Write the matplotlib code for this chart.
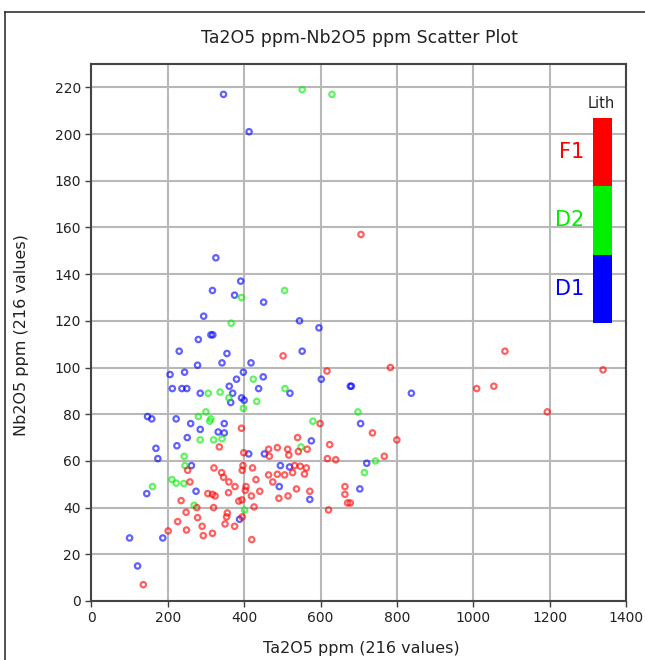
import matplotlib
matplotlib.use("Agg")
from matplotlib import pyplot as plt
from matplotlib.lines import Line2D

# values (Ta2O5 ppm, Nb2O5 ppm)
f1_x = [706, 1083, 783, 1340, 1009, 1054, 1194, 736, 800, 767, 678,
        502, 617, 599, 393, 540, 624, 335, 399,
        464, 487, 514, 542, 565, 517, 466, 618, 640,
        532, 547, 563, 527, 558, 487, 506, 464, 475,
        397, 422, 395, 405, 403,
        321, 341, 346, 360, 376, 431, 441, 419, 394, 386,
        491, 515, 537, 572, 426, 621, 664, 664, 671,
        258, 252, 305, 317, 324, 359, 235, 248, 276, 320, 356, 354,
        278, 226, 350, 375, 395, 201, 249, 290, 293, 317, 420, 136]
f1_y = [157, 107, 100, 99, 91, 92, 81, 72, 69, 62, 42,
        105, 98.5, 76, 74, 70, 67, 66, 63.5,
        65, 65.7, 65, 64, 65, 62.5, 62, 61, 60.5,
        58, 57.7, 57, 55, 54.4, 54.3, 54, 54, 51,
        58, 57, 56, 49, 47.4,
        57, 55, 53, 51, 49, 52, 47, 45, 43.3, 42.8,
        44, 45, 48, 47, 40.3, 39, 49, 45.7, 42,
        51, 56, 46, 45.7, 45, 46.4, 43, 38, 40, 40, 37.7, 36,
        35.7, 34, 33, 32, 36, 30, 30.4, 32, 28, 29, 26.3, 7]

d2_x = [552, 630, 393, 506, 366, 424, 507, 306, 337, 360, 433, 398,
        698, 580, 300, 280, 313, 310, 342, 320, 285, 549, 744, 715,
        243, 245, 211, 222, 242, 160, 269, 401]
d2_y = [219, 217, 130, 133, 119, 95, 91, 89, 89.5, 87, 85.5, 82.5,
        81, 77, 81, 79, 78, 77, 69.5, 69, 69, 66, 60, 55,
        62, 58, 52, 50.5, 50.3, 49, 41, 39]

d1_x = [346, 413, 326, 391, 317, 375, 451, 294, 545, 596,
        280, 313, 318, 230, 355, 552, 278, 342, 418, 206, 244, 398,
        380, 450, 602, 678, 681, 212, 237, 250, 361, 438, 838, 285,
        520, 370, 393, 400, 365, 147, 158, 222, 260, 348, 705, 285,
        332, 348, 251, 576, 224, 169, 174, 412, 453, 495, 519, 262,
        721, 703, 274, 492, 572, 145, 388, 187, 100, 121]
d1_y = [217, 201, 147, 137, 133, 131, 128, 122, 120, 117,
        112, 114, 114, 107, 106, 107, 101, 102, 102, 97, 98, 98,
        95, 96, 95, 92, 92, 91, 91, 91, 92, 91, 89, 89,
        89, 89, 87, 86, 85, 79, 78, 78, 76, 76, 76, 73.5,
        72.4, 72, 70, 68.6, 66.5, 65.4, 61, 63, 63, 58, 57.4, 58,
        59, 48, 47, 49, 43.5, 46, 35, 27, 27, 15]

lith_labels = ["F1", "D2", "D1"]
lith_colors = ["#ff0000", "#00ee00", "#0000ff"]

fig = plt.figure(figsize=(6.45, 6.6), dpi=100)
ax = fig.add_axes([0.1417, 0.0894, 0.8288, 0.8136])

# scatter: hollow circles
for xs, ys, c in [(d1_x, d1_y, lith_colors[2]), (d2_x, d2_y, lith_colors[1]), (f1_x, f1_y, lith_colors[0])]:
  ax.scatter(xs, ys, s=15, facecolors="none", edgecolors=c, linewidths=1.6, alpha=0.62, zorder=3)

ax.set_xlim(0, 1400)
ax.set_ylim(0, 230)
ax.set_xticks(range(0, 1401, 200))
ax.set_yticks(range(0, 221, 20))
ax.tick_params(labelsize=10, length=4, width=1, color="#404040", colors="#222222")
ax.grid(True, color="#b8b8b8", linewidth=1.5)
ax.set_axisbelow(True)
for side in ["left", "bottom", "top", "right"]:
  ax.spines[side].set_color("#444444")
  ax.spines[side].set_linewidth(1.5)

fig.text(0.557, 0.942, "Ta2O5 ppm-Nb2O5 ppm Scatter Plot", ha="center", va="center", fontsize=12.5, color="#222222")
fig.text(0.56, 0.018, "Ta2O5 ppm (216 values)", ha="center", va="center", fontsize=11.5, color="#222222")
fig.text(0.034, 0.492, "Nb2O5 ppm (216 values)", ha="center", va="center", rotation=90, fontsize=11.5, color="#222222")

# legend colour bar
lax = fig.add_axes([593 / 645, 1 - 323 / 660, 18.5 / 645, 205 / 660])
for i, c in enumerate(reversed(lith_colors)):
  lax.bar(0, 1, bottom=i, width=1, color=c)
lax.set_xlim(-0.5, 0.5)
lax.set_ylim(0, 3)
lax.axis("off")
for i, (lab, c) in enumerate(zip(lith_labels, lith_colors)):
  lax.text(-0.95, 2.5 - i, lab, ha="right", va="center", fontsize=15, color=c, transform=lax.transData)
fig.text(601 / 645, 1 - 104 / 660, "Lith", ha="center", va="center", fontsize=10.5, color="#222222")

# outer frame (left and top edges)
fig.add_artist(Line2D([5 / 645, 5 / 645], [0, 1 - 12 / 660], color="#333333", lw=1.2))
fig.add_artist(Line2D([5 / 645, 1], [1 - 12 / 660, 1 - 12 / 660], color="#333333", lw=1.2))

fig.savefig("out.png", dpi=100)
